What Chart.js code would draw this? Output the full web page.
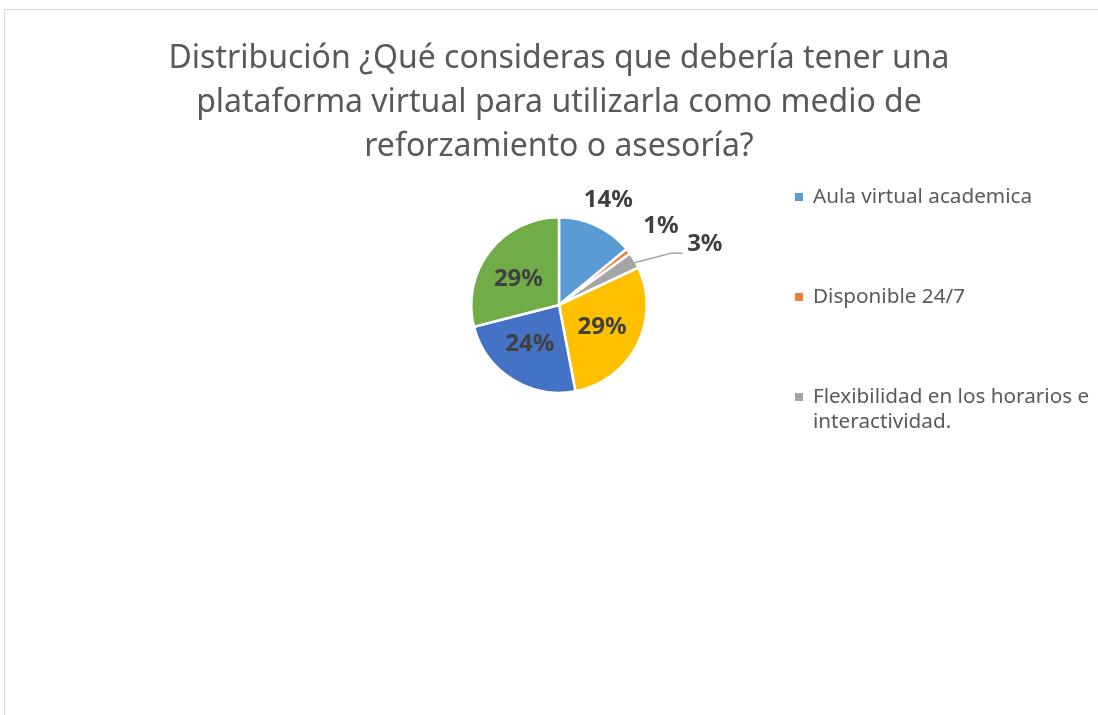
<!DOCTYPE html>
<html>
<head>
<meta charset="utf-8">
<script src="https://cdn.jsdelivr.net/npm/chart.js@4"></script>
<style>
  html, body { margin: 0; padding: 0; background: #fff; overflow: hidden; width: 1098px; height: 715px; }
  #marco { position: absolute; left: 4px; top: 9px; width: 1108px; height: 720px;
           border-left: 1px solid #d9d9d9; border-top: 1px solid #d9d9d9; }
</style>
</head>
<body>
<div id="marco"><canvas id="grafico" width="1108" height="720"></canvas></div>
<script>
(() => {
    // Datos (porcentajes)
    const categorias = [
        "Aula virtual academica",
        "Disponible 24/7",
        "Flexibilidad en los horarios e interactividad.",
        "Opción 4",
        "Opción 5",
        "Opción 6"
    ];
    const valores = [14, 1, 3, 29, 24, 29];
    const colores = ["#5B9BD5", "#ED7D31", "#A5A5A5", "#FFC000", "#4472C4", "#70AD47"];
    const titulo = [
        "Distribución ¿Qué consideras que debería tener una",
        "plataforma virtual para utilizarla como medio de",
        "reforzamiento o asesoría?"
    ];
    const itemsLeyenda = 3; // solo se ven tres entradas

    // posición de cada etiqueta: factor del radio y giro extra (grados)
    const posEtiqueta = [
        { r: 1.32, giro: 0 },
        { r: 1.47, giro: 0 },
        { r: 1.80, giro: 8, guia: true },
        { r: 0.55, giro: 0 },
        { r: 0.56, giro: 4 },
        { r: 0.55, giro: -5 }
    ];

    const etiquetas = {
        id: 'etiquetas',
        afterDatasetsDraw(chart) {
            const ctx = chart.ctx;
            const meta = chart.getDatasetMeta(0);
            const total = valores.reduce((a, b) => a + b, 0);
            ctx.save();
            ctx.font = "bold 24px 'Noto Sans'";
            ctx.fillStyle = "#404040";
            ctx.textAlign = "center";
            ctx.textBaseline = "middle";
            meta.data.forEach((arc, i) => {
                const p = posEtiqueta[i];
                const medio = (arc.startAngle + arc.endAngle) / 2 + p.giro * Math.PI / 180;
                const x = arc.x + Math.cos(medio) * arc.outerRadius * p.r;
                const y = arc.y + Math.sin(medio) * arc.outerRadius * p.r;
                if (p.guia) {
                    const m = (arc.startAngle + arc.endAngle) / 2;
                    const x0 = arc.x + Math.cos(m) * arc.outerRadius * 0.9;
                    const y0 = arc.y + Math.sin(m) * arc.outerRadius * 0.9;
                    ctx.strokeStyle = "#a6a6a6";
                    ctx.lineWidth = 1.5;
                    ctx.beginPath();
                    ctx.moveTo(x0, y0);
                    ctx.lineTo(x - 34, y + 9);
                    ctx.lineTo(x - 22, y + 9);
                    ctx.stroke();
                }
                ctx.fillText(Math.round(valores[i] / total * 100) + "%", x, y);
            });
            ctx.restore();
        }
    };

    const leyenda = {
        id: 'leyenda',
        afterDraw(chart) {
            const ctx = chart.ctx;
            ctx.save();
            ctx.font = "20.7px 'Noto Sans'";
            ctx.textBaseline = "middle";
            const x = 790, y0 = 187, paso = 100, ancho = 300;
            for (let i = 0; i < itemsLeyenda; i++) {
                const y = y0 + i * paso;
                ctx.fillStyle = colores[i];
                ctx.fillRect(x, y - 4, 8, 8);
                ctx.fillStyle = "#595959";
                // partir el texto en líneas
                const palabras = categorias[i].split(" ");
                let linea = "", lineas = [];
                palabras.forEach(p => {
                    const prueba = linea ? linea + " " + p : p;
                    if (ctx.measureText(prueba).width > ancho && linea) {
                        lineas.push(linea);
                        linea = p;
                    } else linea = prueba;
                });
                lineas.push(linea);
                lineas.forEach((l, k) => ctx.fillText(l, x + 18, y + k * 25));
            }
            ctx.restore();
        }
    };

    const ctx = document.getElementById('grafico').getContext('2d');
    new Chart(ctx, {
        type: 'pie',
        data: {
            labels: categorias,
            datasets: [{
                data: valores,
                backgroundColor: colores,
                borderColor: '#ffffff',
                borderWidth: 2.5
            }]
        },
        options: {
            responsive: false,
            animation: false,
            layout: {
                padding: { left: 0, right: 0, top: 0, bottom: 336 }
            },
            plugins: {
                legend: { display: false },
                tooltip: { enabled: false },
                title: {
                    display: true,
                    text: titulo,
                    color: '#595959',
                    font: { family: "'Noto Sans'", size: 32, weight: 'normal', lineHeight: '44px' },
                    padding: { top: 27, bottom: 47 }
                }
            }
        },
        plugins: [etiquetas, leyenda]
    });
})();
</script>
</body>
</html>
